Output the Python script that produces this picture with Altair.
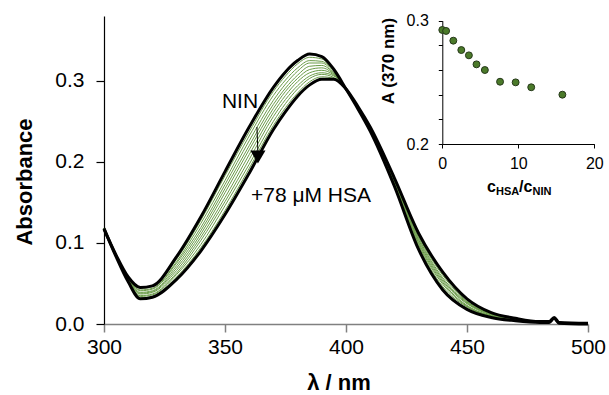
import altair as alt
import pandas as pd

FONT = "Liberation Sans"
GREEN = "#6a9b48"

# ---------------- main spectra (wavelength in nm, absorbance) ----------------
wavelength = [300, 305, 310, 315, 320, 330, 340, 350, 360, 370, 375, 380, 385, 390, 395,
              400, 405, 410, 420, 430, 440, 450, 460, 470, 480, 484, 486, 488, 500]

abs_nin = [.117, .085, .058, .045, .047, .083, .132, .188, .243, .292, .311, .325, .333, .330, .314,
           .290, .265, .238, .170, .092, .042, .018, .008, .004, .002, .002, .007, .001, .000]
abs_t1 = [.117, .085, .057, .044, .046, .080, .128, .183, .237, .287, .306, .321, .329, .327, .313,
          .290, .265, .239, .171, .094, .044, .019, .009, .004, .002, .002, .007, .001, .000]
abs_t2 = [.117, .085, .057, .042, .044, .077, .124, .177, .232, .282, .301, .316, .325, .324, .312,
          .290, .266, .239, .172, .096, .046, .021, .009, .005, .002, .002, .007, .001, .000]
abs_t3 = [.117, .084, .056, .041, .043, .075, .119, .172, .226, .276, .296, .312, .322, .322, .310,
          .290, .266, .240, .173, .098, .049, .022, .010, .005, .002, .002, .007, .001, .000]
abs_t4 = [.117, .084, .056, .039, .041, .072, .115, .167, .220, .271, .291, .307, .318, .319, .309,
          .290, .266, .240, .174, .100, .051, .023, .010, .005, .002, .002, .007, .001, .000]
abs_t5 = [.118, .084, .055, .038, .040, .069, .111, .162, .215, .266, .287, .303, .314, .316, .308,
          .290, .267, .241, .175, .102, .053, .025, .011, .006, .003, .003, .008, .002, .001]
abs_t6 = [.118, .084, .054, .037, .039, .066, .107, .156, .209, .261, .282, .299, .310, .313, .307,
          .290, .267, .241, .176, .104, .055, .026, .012, .006, .003, .003, .008, .002, .001]
abs_t7 = [.118, .084, .054, .035, .037, .063, .103, .151, .203, .256, .277, .294, .306, .310, .306,
          .290, .267, .242, .177, .106, .057, .027, .012, .006, .003, .003, .008, .002, .001]
abs_t8 = [.118, .083, .053, .034, .036, .061, .098, .146, .197, .250, .272, .290, .303, .308, .304,
          .290, .267, .242, .178, .108, .060, .028, .013, .006, .003, .003, .008, .002, .001]
abs_t9 = [.118, .083, .053, .032, .034, .058, .094, .140, .192, .245, .267, .285, .299, .305, .303,
          .290, .268, .243, .179, .110, .062, .030, .013, .007, .003, .003, .008, .002, .001]
abs_hsa = [.118, .083, .052, .031, .033, .055, .090, .135, .186, .240, .262, .281, .295, .302, .302,
           .290, .268, .243, .180, .112, .064, .031, .014, .007, .003, .003, .008, .002, .001]

spectra = [abs_nin, abs_t1, abs_t2, abs_t3, abs_t4, abs_t5, abs_t6, abs_t7, abs_t8, abs_t9, abs_hsa]

# ---------------- inset: A(370 nm) vs c_HSA/c_NIN ----------------
ratio = [0.0, 0.5, 1.45, 2.5, 3.5, 4.5, 5.6, 7.6, 9.65, 11.7, 15.8]
a370 = [0.2925, 0.2917, 0.2838, 0.2762, 0.2719, 0.2646, 0.260, 0.2505, 0.250, 0.246, 0.240]

rows = []
for i, s in enumerate(spectra):
    for w, a in zip(wavelength, s):
        rows.append({"series": i, "wavelength": w, "absorbance": a,
                     "kind": "end" if i in (0, len(spectra) - 1) else "mid"})
df = pd.DataFrame(rows)
df_mid = df[df.kind == "mid"]
df_end = df[df.kind == "end"]
df_inset = pd.DataFrame({"ratio": ratio, "a370": a370})

xs = alt.Scale(domain=[300, 500], nice=False, zero=False)
ys = alt.Scale(domain=[0, 0.38], nice=False, zero=False)

x_axis = alt.Axis(values=[300, 350, 400, 450, 500], title=None, grid=False, labelFlush=False,
                  labelOverlap=False,
                  domainColor="#808080", tickColor="#808080", domainWidth=1.5, tickWidth=1.5,
                  tickSize=8, labelFontSize=21, labelPadding=4, labelColor="black", labelFont=FONT)
y_axis = alt.Axis(values=[0, 0.1, 0.2, 0.3], format=".1f", title=None, grid=False, labelFlush=False,
                  labelOverlap=False,
                  domainColor="black", tickColor="black", domainWidth=1.2, tickWidth=1.2,
                  tickSize=8, labelFontSize=21, labelPadding=12, labelColor="black", labelFont=FONT)

green = alt.Chart(df_mid).mark_line(strokeWidth=1.0, color=GREEN, interpolate="monotone").encode(
    x=alt.X("wavelength:Q", scale=xs, axis=x_axis),
    y=alt.Y("absorbance:Q", scale=ys, axis=y_axis),
    detail="series:N",
)
black = alt.Chart(df_end).mark_line(strokeWidth=3, color="black", interpolate="monotone").encode(
    x=alt.X("wavelength:Q", scale=xs),
    y=alt.Y("absorbance:Q", scale=ys),
    detail="series:N",
)

arrow_line = alt.Chart(pd.DataFrame({"x": [363.2, 363.6], "y": [0.243, 0.212]})).mark_line(
    color="black", strokeWidth=1).encode(x=alt.X("x:Q", scale=xs), y=alt.Y("y:Q", scale=ys))
arrow_head = alt.Chart(pd.DataFrame({"x": [363.6], "y": [0.206]})).mark_point(
    shape="triangle-down", filled=True, color="black", size=230, opacity=1).encode(
    x=alt.X("x:Q", scale=xs), y=alt.Y("y:Q", scale=ys))


def label(text, x, y, size, bold=False, angle=0, align="center", baseline="middle"):
    return alt.Chart(pd.DataFrame({"t": [text]})).mark_text(
        font=FONT, fontSize=size, fontWeight="bold" if bold else "normal",
        angle=angle, align=align, baseline=baseline, color="black",
    ).encode(text="t:N", x=alt.value(x), y=alt.value(y))


texts = [
    label("NIN", 136, 86, 21),
    label("+78 \u03bcM HSA", 207, 180, 21),
    label("Absorbance", -79, 166, 22, bold=True, angle=270),
    label("\u03bb / nm", 235, 367, 22, bold=True),
    label("A (370 nm)", 285, 45, 17, bold=True, angle=270),
    label("c", 383, 175.5, 16, bold=True, align="left", baseline="alphabetic"),
    label("HSA", 392, 179, 11, bold=True, align="left", baseline="alphabetic"),
    label("/", 415, 175.5, 16, bold=True, align="left", baseline="alphabetic"),
    label("c", 419.5, 175.5, 16, bold=True, align="left", baseline="alphabetic"),
    label("NIN", 428.5, 179, 11, bold=True, align="left", baseline="alphabetic"),
]

main = alt.layer(green, black, arrow_line, arrow_head, *texts)

inset = alt.Chart(df_inset).mark_point(
    shape="circle", filled=True, size=48, color="#4b7a2a", stroke="#26381a", strokeWidth=1, opacity=1
).encode(
    x=alt.X("ratio:Q", scale=alt.Scale(domain=[0, 20], range=[338.3, 490.3], nice=False, zero=False),
            axis=alt.Axis(orient="bottom", offset=-180, values=[0, 10, 20], title=None, grid=False,
                          labelFlush=False, labelOverlap=False,
                          domainColor="black", tickColor="black", tickSize=4, labelFontSize=16,
                          labelPadding=7, labelColor="black", labelFont=FONT)),
    y=alt.Y("a370:Q", scale=alt.Scale(domain=[0.2, 0.3], range=[128, 4.7], nice=False, zero=False),
            axis=alt.Axis(orient="left", offset=-338.3, values=[0.2, 0.22, 0.24, 0.26, 0.28, 0.3],
                          labelExpr="abs(datum.value-0.2)<1e-6 || abs(datum.value-0.3)<1e-6 ? format(datum.value,'.1f') : ''",
                          labelFlush=False, labelOverlap=False,
                          title=None, grid=False, domainColor="black", tickColor="black", tickSize=4,
                          labelFontSize=16, labelPadding=10, labelColor="black", labelFont=FONT)),
)

chart = alt.layer(main, inset).resolve_scale(x="independent", y="independent").properties(
    width=484, height=308,
    padding={"left": 104, "top": 16, "right": 21, "bottom": 71},
    autosize=alt.AutoSizeParams(type="none"),
).configure(font=FONT).configure_view(stroke=None)

chart.save("out.html", embed_options={"renderer": "svg", "actions": False})
